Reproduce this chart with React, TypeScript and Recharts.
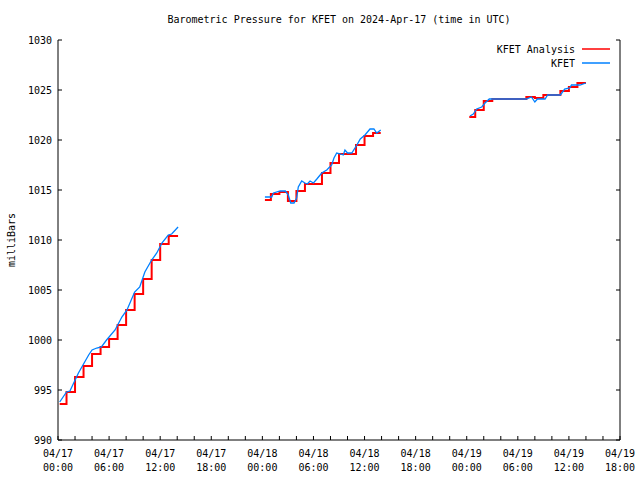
import { LineChart, Line, XAxis, YAxis, Legend, Label } from 'recharts'

// hours since 04/17 00:00 UTC; null = no data (breaks the line)
const analysisHours = [
  0.2, 1, 2, 3, 4, 5, 6, 7, 8, 9, 10, 11, 12, 13, 14.1,
  19,
  24.3, 25, 26, 27, 28, 29, 30, 31, 32, 33, 34, 35, 36, 37, 37.9,
  43,
  48.3, 49, 50, 51, 52, 53, 54, 55, 56, 57, 58, 59, 60, 61, 62,
]
const analysisValues = [
  993.6, 994.8, 996.3, 997.4, 998.6, 999.3, 1000.1, 1001.5, 1003.0, 1004.6, 1006.1, 1008.0, 1009.6, 1010.4, 1010.4,
  null,
  1014.0, 1014.6, 1014.8, 1013.9, 1014.9, 1015.6, 1015.6, 1016.7, 1017.7, 1018.6, 1018.6, 1019.5, 1020.4, 1020.7, 1020.7,
  null,
  1022.3, 1023.0, 1023.9, 1024.1, 1024.1, 1024.1, 1024.1, 1024.3, 1024.2, 1024.5, 1024.5, 1024.9, 1025.3, 1025.7, 1025.7,
]

const kfetHours = [
  0.2, 1.0, 1.4, 2.4, 3.6, 4.0, 4.55, 5.1, 5.7, 6.7, 7.5, 8.1, 9.0, 9.6, 10.2, 11.0, 11.6, 12.2, 12.95, 13.35, 14.1,
  19,
  24.3, 25.1, 25.3, 26.1, 26.7, 27.05, 27.33, 27.72, 28.03, 28.22, 28.62, 29.0, 29.28, 29.6, 30.0, 30.4, 30.97,
  31.56, 32.14, 32.41, 32.73, 33.2, 33.5, 33.7, 34.0, 34.5, 35.1, 35.5, 36.05, 36.64, 37.1, 37.43, 37.9,
  43,
  48.38, 48.77, 49.17, 49.76, 50.15, 50.65, 53.1, 55.0, 55.6, 56.0, 56.3, 57.2, 57.5, 59.0, 59.5, 60.1, 60.3, 61.3, 62.0,
]
const kfetValues = [
  993.8, 994.8, 994.9, 996.7, 998.5, 999.0, 999.2, 999.3, 1000.0, 1001.0, 1002.3, 1003.0, 1004.8, 1005.3, 1006.8,
  1008.0, 1008.7, 1009.7, 1010.5, 1010.6, 1011.3,
  null,
  1014.3, 1014.3, 1014.7, 1014.9, 1014.9, 1014.5, 1013.7, 1013.7, 1014.2, 1015.3, 1015.9, 1015.7, 1015.6, 1015.9,
  1015.7, 1016.1, 1016.7, 1017.0, 1017.5, 1018.2, 1018.7, 1018.6, 1018.5, 1019.0, 1018.7, 1018.7, 1019.5, 1020.1,
  1020.5, 1021.1, 1021.1, 1020.7, 1021.0,
  null,
  1022.4, 1022.6, 1023.1, 1023.3, 1023.7, 1024.1, 1024.1, 1024.1, 1024.3, 1023.8, 1024.1, 1024.1, 1024.5, 1024.5,
  1025.1, 1025.2, 1025.5, 1025.5, 1025.7,
]

const xTicks = [
  0, 2, 4, 6, 8, 10, 12, 14, 16, 18, 20, 22, 24, 26, 28, 30, 32, 34,
  36, 38, 40, 42, 44, 46, 48, 50, 52, 54, 56, 58, 60, 62, 64, 66,
]
const dayLabels = ['04/17', '04/18', '04/19']
const timeLabels = ['00:00', '06:00', '12:00', '18:00']
const yTicks = [990, 995, 1000, 1005, 1010, 1015, 1020, 1025, 1030]

const analysisData = analysisHours.map((h, i) => ({ h, p: analysisValues[i] }))
const kfetData = kfetHours.map((h, i) => ({ h, p: kfetValues[i] }))

const FONT = "'DejaVu Sans Mono', monospace"
const TICK = 4

const BottomTick = ({ x, y, payload }: any) => {
  const v = payload.value
  const major = v % 6 === 0
  return (
    <g>
      <line x1={x} x2={x} y1={y} y2={y - TICK} stroke="#000" />
      {major && (
        <text x={x} y={y + 17} textAnchor="middle" fontSize={10} fontFamily={FONT} fill="#000">
          <tspan x={x}>{dayLabels[Math.floor(v / 24)]}</tspan>
          <tspan x={x} dy={14}>{timeLabels[(v % 24) / 6]}</tspan>
        </text>
      )}
    </g>
  )
}

const TopTick = ({ x, y }: any) => <line x1={x} x2={x} y1={y} y2={y + TICK} stroke="#000" />

const LeftTick = ({ x, y, payload }: any) => (
  <g>
    <line x1={x} x2={x + TICK} y1={y} y2={y} stroke="#000" />
    <text x={x - 6} y={y + 4} textAnchor="end" fontSize={10} fontFamily={FONT} fill="#000">
      {payload.value}
    </text>
  </g>
)

const RightTick = ({ x, y }: any) => <line x1={x} x2={x - TICK} y1={y} y2={y} stroke="#000" />

const legendItems = [
  { name: 'KFET Analysis', color: '#ff0000' },
  { name: 'KFET', color: '#0080ff' },
]

const renderLegend = () => (
  <div style={{ fontFamily: FONT, fontSize: 10 }}>
    {legendItems.map(it => (
      <div key={it.name} style={{ display: 'flex', justifyContent: 'flex-end', alignItems: 'center', height: 14 }}>
        <span>{it.name}</span>
        <svg width={40} height={14}>
          <line x1={7} x2={35} y1={7} y2={7} stroke={it.color} strokeWidth={1.5} />
        </svg>
      </div>
    ))}
  </div>
)

export default function App() {
  return (
    <div style={{ position: 'absolute', left: 0, top: 0, width: 640, height: 480, background: '#fff' }}>
      <div
        style={{
          position: 'absolute', left: 58, width: 562, top: 13, textAlign: 'center',
          fontFamily: FONT, fontSize: 10, lineHeight: '14px',
        }}
      >
        Barometric Pressure for KFET on 2024-Apr-17 (time in UTC)
      </div>
      <LineChart width={640} height={480} margin={{ top: 40, right: 0, bottom: 0, left: 0 }}>
        <XAxis
          xAxisId="b" dataKey="h" type="number" domain={[0, 66]} ticks={xTicks} interval={0}
          height={40} tickSize={0} tickMargin={0} tickLine={false} tick={BottomTick}
          axisLine={{ stroke: '#000' }} allowDataOverflow
        />
        <XAxis
          xAxisId="t" orientation="top" dataKey="h" type="number" domain={[0, 66]} ticks={xTicks} interval={0}
          height={0} tickSize={0} tickMargin={0} tickLine={false} tick={TopTick}
          axisLine={{ stroke: '#000' }} allowDataOverflow
        />
        <YAxis
          yAxisId="l" type="number" domain={[990, 1030]} ticks={yTicks} interval={0}
          width={58} tickSize={0} tickMargin={0} tickLine={false} tick={LeftTick}
          axisLine={{ stroke: '#000' }} allowDataOverflow
        >
          <Label
            content={({ viewBox }: any) => (
              <text
                x={12} y={viewBox.y + viewBox.height / 2} transform={`rotate(-90 12 ${viewBox.y + viewBox.height / 2})`}
                textAnchor="middle" dominantBaseline="middle" fontSize={10} fontFamily={FONT} fill="#000"
              >
                milliBars
              </text>
            )}
          />
        </YAxis>
        <YAxis
          yAxisId="r" orientation="right" type="number" domain={[990, 1030]} ticks={yTicks} interval={0}
          width={20} tickSize={0} tickMargin={0} tickLine={false} tick={RightTick}
          axisLine={{ stroke: '#000' }} allowDataOverflow
        />
        <Legend
          layout="vertical" align="center" verticalAlign="middle" content={renderLegend}
          wrapperStyle={{ left: 440, top: 42, width: 175 }}
        />
        <Line
          data={analysisData} dataKey="p" xAxisId="b" yAxisId="l" type="stepAfter" name="KFET Analysis"
          stroke="#ff0000" strokeWidth={2} dot={false} activeDot={false} connectNulls={false} isAnimationActive={false}
        />
        <Line
          data={kfetData} dataKey="p" xAxisId="b" yAxisId="l" type="linear" name="KFET"
          stroke="#0080ff" strokeWidth={1.3} dot={false} activeDot={false} connectNulls={false} isAnimationActive={false}
        />
      </LineChart>
    </div>
  )
}
